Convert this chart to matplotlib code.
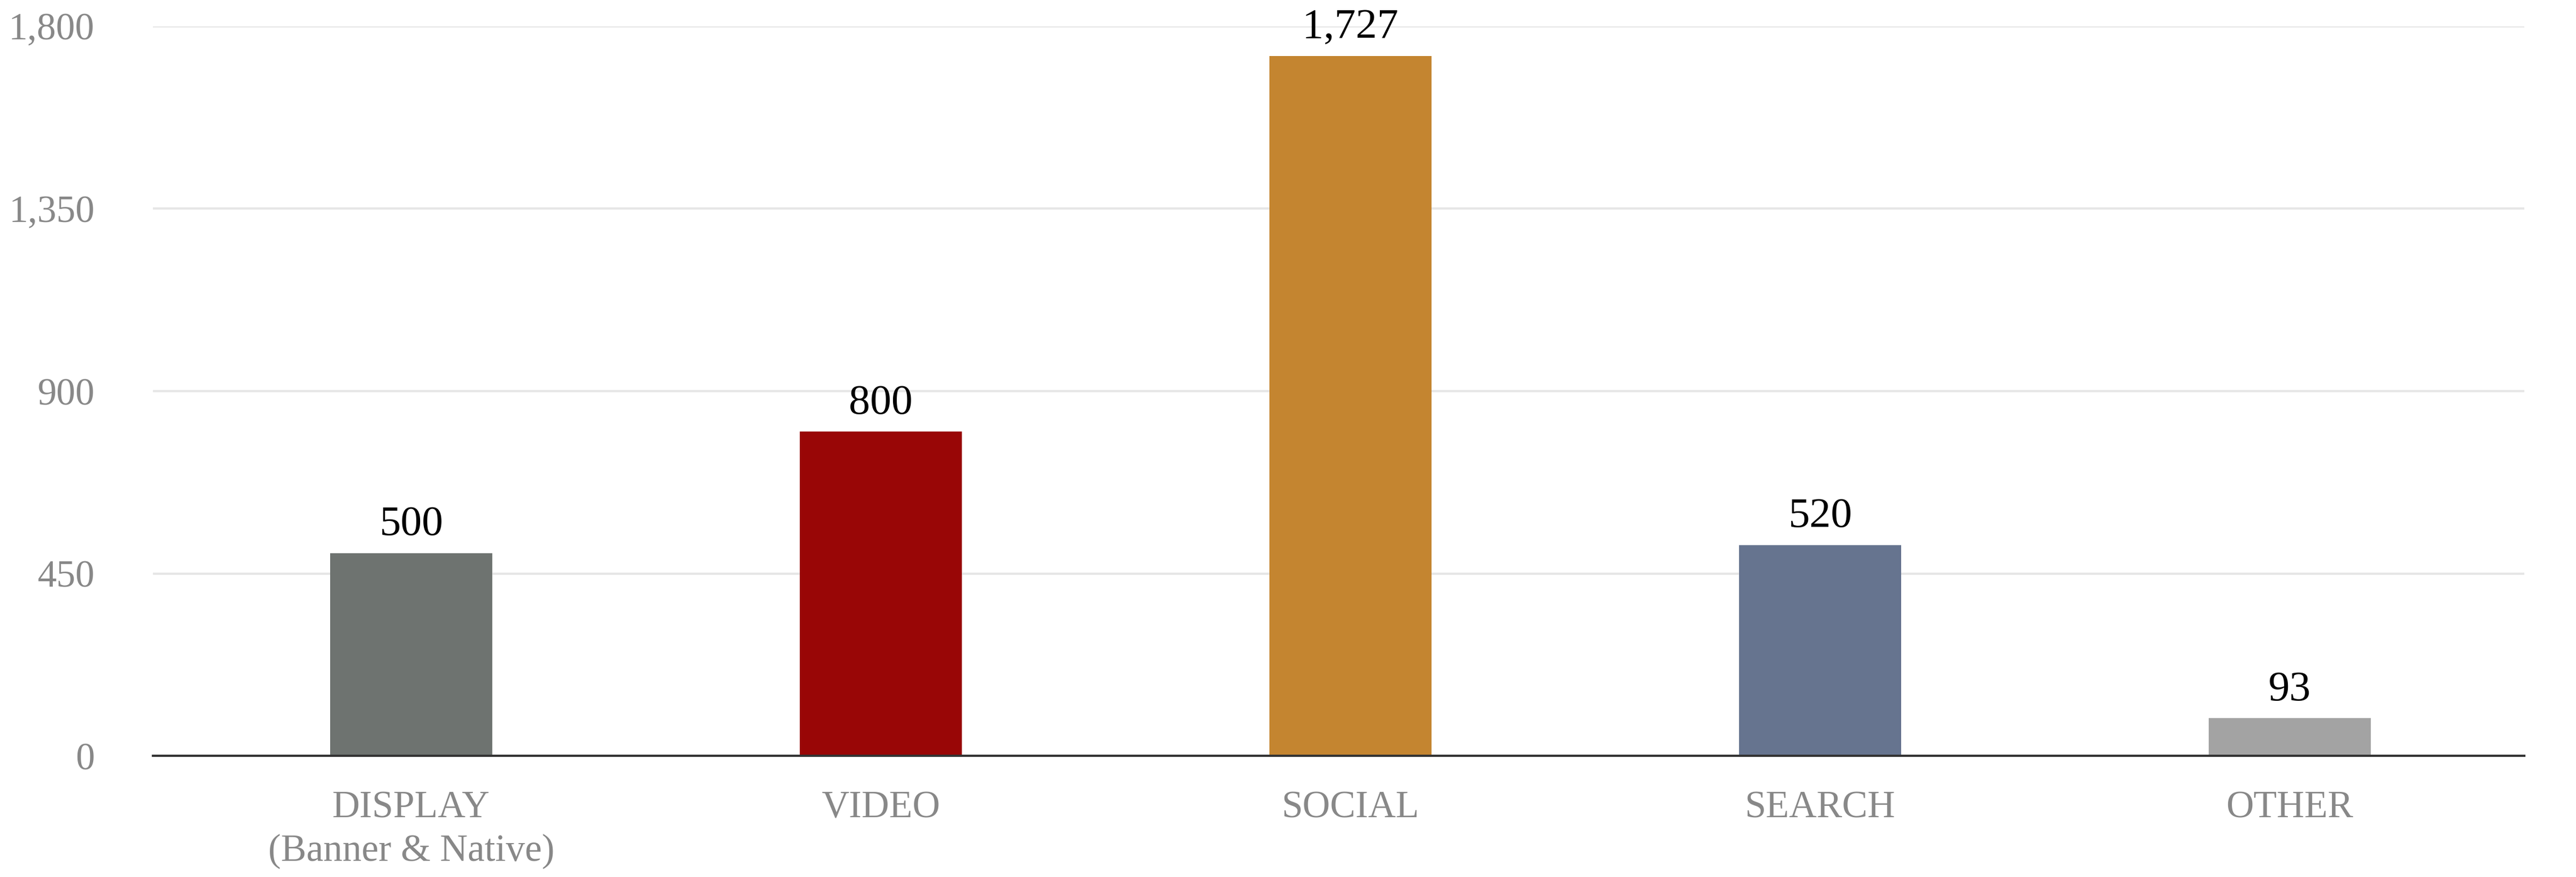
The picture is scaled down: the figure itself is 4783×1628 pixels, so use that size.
import matplotlib
matplotlib.use("Agg")
import matplotlib.pyplot as plt
from matplotlib.ticker import FuncFormatter

# data
categories = ["DISPLAY\n(Banner & Native)", "VIDEO", "SOCIAL", "SEARCH", "OTHER"]
values = [500, 800, 1727, 520, 93]
bar_colors = ["#6e7370", "#990606", "#c48530", "#66748f", "#a3a3a3"]
y_ticks = [0, 450, 900, 1350, 1800]

plt.rcParams["font.family"] = ["Liberation Serif", "DejaVu Serif"]

fig = plt.figure(figsize=(47.83, 16.28), dpi=100)
ax = fig.add_axes([0.0594, 0.138, 0.9206, 0.832])

x = range(len(categories))
bars = ax.bar(x, values, width=0.345, color=bar_colors, zorder=3)

# value labels above bars
for b, v in zip(bars, values):
    ax.annotate(f"{v:,}", (b.get_x() + b.get_width() / 2, v),
                xytext=(0, 12), textcoords="offset points",
                ha="center", va="bottom", fontsize=57, color="black",
                annotation_clip=False)

ax.set_xlim(-0.55, 4.5)
ax.set_ylim(0, 1800)
ax.set_yticks(y_ticks)
ax.yaxis.set_major_formatter(FuncFormatter(lambda v, p: f"{int(v):,}"))
ax.set_xticks(list(x))
ax.set_xticklabels(categories, linespacing=1.3)

ax.tick_params(axis="y", length=0, pad=78, labelsize=51, labelcolor="#888888")
ax.tick_params(axis="x", length=0, pad=46, labelsize=51, labelcolor="#888888")

ax.grid(axis="y", color="#e6e6e6", linewidth=3, zorder=0)
ax.set_axisbelow(True)
for s in ["top", "right", "left"]:
    ax.spines[s].set_visible(False)
ax.spines["bottom"].set_color("#333333")
ax.spines["bottom"].set_linewidth(3)
ax.spines["bottom"].set_zorder(4)

fig.savefig("out.png", dpi=100, facecolor="white")
